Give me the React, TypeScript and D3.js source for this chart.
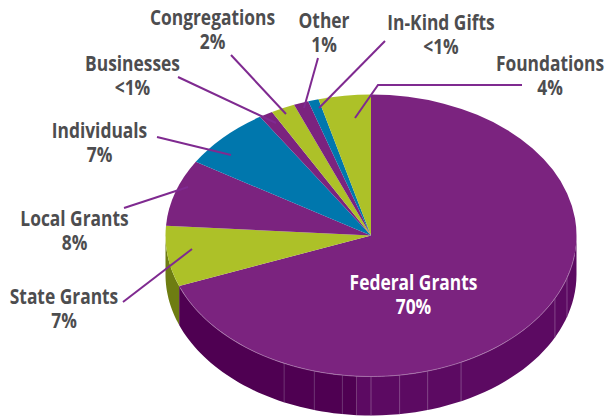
import React from 'react';
import * as d3 from 'd3';

// revenue share per slice (labels are rounded)
const categories = ['Federal Grants', 'State Grants', 'Local Grants', 'Individuals', 'Businesses', 'Congregations', 'Other', 'In-Kind Gifts', 'Foundations'];
const shares = [69.17, 6.94, 7.64, 7.17, 1.08, 1.89, 1.17, 0.83, 4.11];
const shareLabels = ['70%', '7%', '8%', '7%', '<1%', '2%', '1%', '<1%', '4%'];
const sliceColors = ['#7b237f', '#adc128', '#7b237f', '#0077ad', '#7b237f', '#adc128', '#7b237f', '#0077ad', '#adc128'];
// where the rim of the big slice is cut into panels (degrees clockwise from 12 o'clock)
const rimCuts = [107.5, 116.5, 154, 164, 172, 180, 188, 196, 205];

const width = 608;
const height = 416;
const cx = 371;
const cy = 235.5;
const rx = 205.5;
const ry = 141;
const depth = 39;

// label centre x and first baseline, in page pixels
const labelPos: [number, number][] = [
  [413.5, 290], [64, 304], [74.5, 226], [99.5, 138], [132.5, 71], [212.5, 25], [324, 28], [441, 30], [550, 71],
];
const leaders: ([number, number][] | null)[] = [
  null,
  [[123, 302], [192, 249]],
  [[124, 208], [188, 187]],
  [[157, 137], [231, 155]],
  [[178, 77], [276, 123]],
  [[231, 55], [286, 114]],
  [[318, 58], [304, 108]],
  [[385, 41], [319, 108]],
  [[522, 85], [378, 85], [355, 118]],
];

const pie = d3.pie<number>().sort(null).value(d => d);
const arcs = pie(shares);
const rad = (deg: number) => (deg * Math.PI) / 180;
const rimX = (a: number) => cx + rx * Math.sin(a);
const rimY = (a: number) => cy - ry * Math.cos(a);

// outline of the pie's side wall between two angles
const wallPath = (a0: number, a1: number) => {
  const steps = d3.range(0, 41).map(i => a0 + ((a1 - a0) * i) / 40);
  const top = steps.map(a => [rimX(a), rimY(a)] as [number, number]);
  const bottom = steps.slice().reverse().map(a => [rimX(a), rimY(a) + depth] as [number, number]);
  return d3.line()([...top, ...bottom]) + 'Z';
};

const sliceArc = d3.arc<d3.PieArcDatum<number>>().innerRadius(0).outerRadius(rx);
const linePath = d3.line();

const Label = ({ i }: { i: number }) => {
  const [x, y] = labelPos[i];
  const fed = i === 0;
  return (
    <text
      transform={`translate(${x},${y}) scale(0.79,1)`}
      textAnchor="middle"
      fontFamily="'Open Sans', sans-serif"
      fontWeight={700}
      fontSize={22}
      fill={fed ? '#ffffff' : '#4d4d4f'}
    >
      <tspan x={0} y={0}>{categories[i]}</tspan>
      <tspan x={0} y={24}>{shareLabels[i]}</tspan>
    </text>
  );
};

export default function App() {
  const fedEnd = arcs[0].endAngle;
  const stateEnd = rad(270);
  return (
    <svg width={width} height={height} style={{ position: 'absolute', left: 0, top: 0, background: '#fff' }}>
      {/* side wall */}
      <path d={wallPath(rad(90), rad(184))} fill="#5c0a62" />
      <path d={wallPath(rad(184), fedEnd)} fill="#4f0052" />
      <path d={wallPath(fedEnd, stateEnd)} fill="#6e7d12" />
      {rimCuts.map(c => (
        <line
          key={c}
          x1={rimX(rad(c))}
          x2={rimX(rad(c))}
          y1={rimY(rad(c))}
          y2={rimY(rad(c)) + depth}
          stroke={c > 184 ? '#7d4a83' : '#93609a'}
          strokeWidth={0.7}
        />
      ))}
      {/* top face, a circle squashed into an ellipse */}
      <g transform={`translate(${cx},${cy}) scale(1,${ry / rx})`}>
        {arcs.map((d, i) => (
          <path key={categories[i]} d={sliceArc(d) ?? ''} fill={sliceColors[i]} />
        ))}
      </g>
      <path
        d={d3.line()(d3.range(rad(98), fedEnd, 0.02).map(a => [rimX(a), rimY(a)] as [number, number])) ?? ''}
        fill="none"
        stroke="#a873ab"
        strokeWidth={0.8}
      />
      {leaders.map((pts, i) =>
        pts ? <path key={i} d={linePath(pts) ?? ''} fill="none" stroke="#7f2a90" strokeWidth={2} /> : null
      )}
      {categories.map((_, i) => (
        <Label key={i} i={i} />
      ))}
    </svg>
  );
}
